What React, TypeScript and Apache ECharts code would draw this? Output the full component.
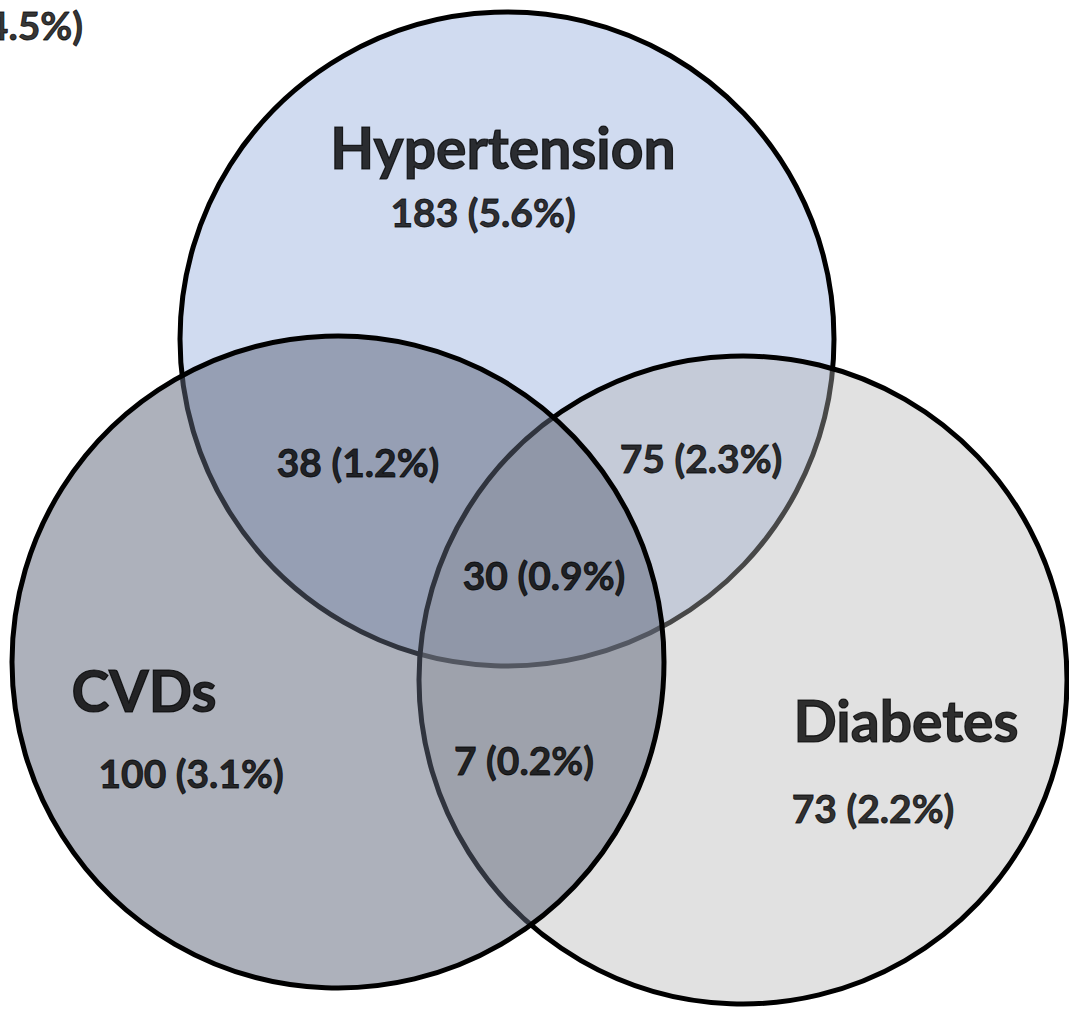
import React, { useEffect, useRef } from "react";
import * as echarts from "echarts";

// Circle sets: name, centre x, centre y, radius (in chart units)
const setNames = ["Hypertension", "Diabetes", "CVDs"];
const centerX = [507, 743, 338];
const centerY = [339, 680, 662];
const radii = [327, 324, 326];

// Set titles and anchor positions
const titleTexts = ["Hypertension", "CVDs", "Diabetes"];
const titleX = [503, 144, 906];
const titleY = [147, 690, 720];

// Region counts and anchor positions
const countTexts = [
  "183 (5.6%)",
  "38 (1.2%)",
  "75 (2.3%)",
  "30 (0.9%)",
  "100 (3.1%)",
  "7 (0.2%)",
  "73 (2.2%)",
];
const countX = [483, 358, 701, 544, 191, 524, 873];
const countY = [212, 462, 458, 575, 773, 760, 808];

// Partially visible label at top-left corner
const cornerText = ["4.5%)"];
const cornerX = [83];
const cornerY = [25];

const fills = ["#D0DBF0", "rgba(180,180,180,0.4)", "rgba(94,102,121,0.51)"];

export default function App() {
  const ref = useRef<HTMLDivElement>(null);
  useEffect(() => {
    document.body.style.margin = "0";
    const chart = echarts.init(ref.current!, null, { renderer: "svg" });
    const font = "Lato, 'Noto Sans', sans-serif";
    const countLabel = {
      show: true,
      position: "inside",
      formatter: "{b}",
      color: "#000",
      fontFamily: font,
      fontWeight: "bold",
      fontSize: 39,
      textBorderColor: "#000",
      textBorderWidth: 0.9,
    };
    chart.setOption({
      animation: false,
      backgroundColor: "#ffffff",
      grid: { left: 0, right: 0, top: 0, bottom: 0 },
      xAxis: { type: "value", min: 0, max: 1069, show: false },
      yAxis: { type: "value", min: 0, max: 1010, inverse: true, show: false },
      series: [
        {
          type: "custom",
          silent: true,
          data: setNames.map((n, i) => ({ name: n, value: [centerX[i], centerY[i], radii[i]] })),
          renderItem: (params: any, api: any) => {
            const c = api.coord([api.value(0), api.value(1)]);
            const r = api.size([api.value(2), api.value(2)])[0];
            return {
              type: "circle",
              shape: { cx: c[0], cy: c[1], r },
              style: { fill: fills[params.dataIndex], stroke: "#000", lineWidth: 5 },
            };
          },
          z: 1,
        },
        {
          type: "scatter",
          symbolSize: 0,
          silent: true,
          z: 5,
          data: titleTexts.map((t, i) => ({ name: t, value: [titleX[i], titleY[i]] })),
          label: {
            show: true,
            position: "inside",
            formatter: "{b}",
            color: "#000",
            fontFamily: font,
            fontWeight: "bold",
            fontSize: 57,
            textBorderColor: "#000",
            textBorderWidth: 1.2,
          },
        },
        {
          type: "scatter",
          symbolSize: 0,
          silent: true,
          z: 5,
          data: countTexts.map((t, i) => ({ name: t, value: [countX[i], countY[i]] })),
          label: countLabel,
        },
        {
          type: "scatter",
          symbolSize: 0,
          silent: true,
          z: 5,
          data: cornerText.map((t, i) => ({ name: t, value: [cornerX[i], cornerY[i]] })),
          label: { ...countLabel, align: "right" },
        },
      ],
    });
    return () => chart.dispose();
  }, []);
  return (
    <div
      ref={ref}
      style={{ position: "absolute", left: 0, top: 0, width: 1069, height: 1010 }}
    />
  );
}
